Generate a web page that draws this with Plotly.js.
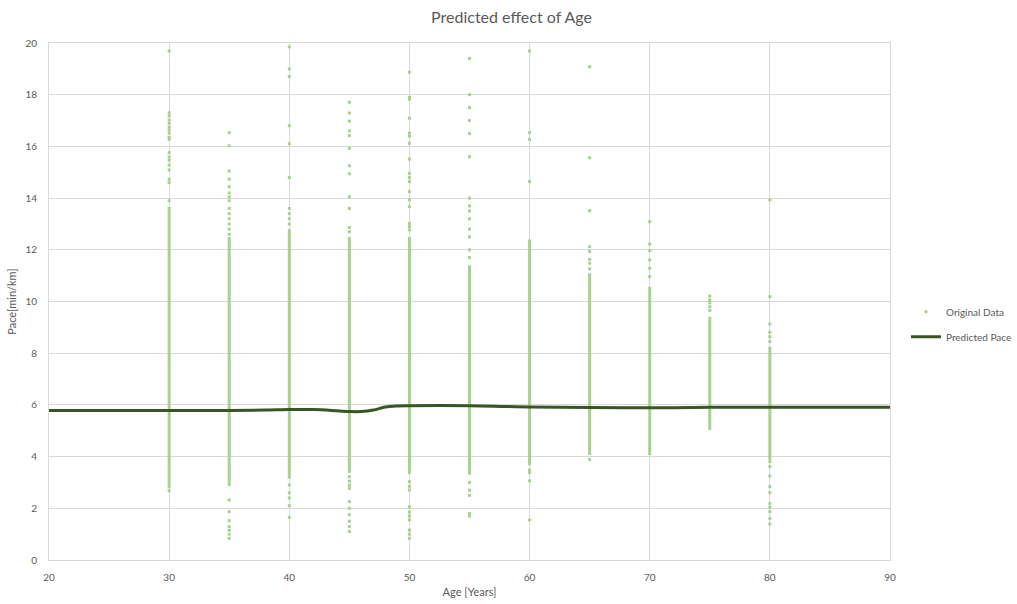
<!DOCTYPE html>
<html>
<head>
<meta charset="utf-8">
<script src="https://cdn.plot.ly/plotly-3.0.1.min.js"></script>
<style>html,body{margin:0;padding:0;background:#fff;}#chart{width:1017px;height:604px;}</style>
</head>
<body>
<div id="chart"></div>
<script>
// Age groups with a dense band of observations (low..high) in min/km
const denseAges = [30, 35, 40, 45, 50, 55, 60, 65, 70, 75, 80];
const denseLow  = [2.78, 2.86, 3.15, 3.37, 3.33, 3.30, 3.67, 4.06, 4.06, 5.03, 3.75];
const denseHigh = [13.67, 12.50, 12.80, 12.50, 12.50, 11.40, 12.40, 11.09, 10.57, 9.41, 8.25];

// Sparse outlying observations per age group
const out30 = [19.69, 17.30, 17.18, 17.02, 16.89, 16.74, 16.63, 16.51, 16.35, 16.27, 15.76, 15.59, 15.47, 15.28, 15.09, 14.73, 14.60, 13.9, 2.68];
const out35 = [16.53, 16.02, 15.05, 14.73, 14.44, 14.2, 14.05, 13.9, 13.6, 13.4, 13.2, 13.0, 12.8, 12.6, 2.32, 1.87, 1.52, 1.29, 1.15, 1.0, 0.84];
const out40 = [19.85, 19.0, 18.7, 16.8, 16.1, 14.8, 13.6, 13.4, 13.2, 13.0, 2.9, 2.6, 2.4, 2.1, 1.65];
const out45 = [17.71, 17.29, 16.98, 16.60, 16.42, 15.93, 15.25, 14.94, 14.05, 13.60, 12.86, 12.70, 3.22, 3.05, 2.90, 2.77, 2.26, 2.0, 1.75, 1.5, 1.3, 1.10];
const out50 = [18.87, 17.90, 17.83, 17.09, 16.51, 16.40, 16.12, 15.51, 14.96, 14.80, 14.64, 14.25, 13.93, 13.67, 13.02, 12.9, 12.77, 3.03, 2.85, 2.71, 2.06, 1.85, 1.70, 1.55, 1.16, 1.0, 0.84];
const out55 = [19.4, 18.0, 17.5, 17.0, 16.5, 15.6, 14.0, 13.7, 13.5, 13.2, 12.8, 12.5, 12.0, 11.7, 3.0, 2.7, 2.5, 1.8, 1.7];
const out60 = [19.69, 16.53, 16.27, 14.64, 3.48, 3.38, 3.06, 1.55];
const out65 = [19.08, 15.56, 13.51, 12.12, 11.93, 11.63, 11.48, 11.26, 3.89];
const out70 = [13.09, 12.22, 11.97, 11.61, 11.28, 10.96];
const out75 = [10.21, 10.06, 9.95, 9.80, 9.65];
const out80 = [13.93, 10.19, 9.13, 8.81, 8.64, 8.45, 3.61, 3.25, 2.84, 2.60, 2.19, 2.04, 1.87, 1.61, 1.39];
const outAges = [30, 35, 40, 45, 50, 55, 60, 65, 70, 75, 80];
const outLists = [out30, out35, out40, out45, out50, out55, out60, out65, out70, out75, out80];

// Predicted pace curve
const predAges = [20, 25, 30, 35, 38, 40, 42, 44, 45, 46, 47, 48, 49, 50, 55, 58, 60, 65, 68, 70, 72, 75, 80, 85, 90];
const predPace = [5.78, 5.78, 5.78, 5.78, 5.80, 5.82, 5.82, 5.77, 5.74, 5.74, 5.80, 5.92, 5.96, 5.97, 5.97, 5.94, 5.92, 5.90, 5.89, 5.89, 5.89, 5.91, 5.91, 5.91, 5.91];

const green = '#a9d18e';
const dark = '#375623';
const grey = '#595959';

// Build dense-band line segments
const bandX = [], bandY = [];
denseAges.forEach((a, i) => { bandX.push(a, a, null); bandY.push(denseLow[i], denseHigh[i], null); });
// Build sparse points
const ptX = [], ptY = [];
outAges.forEach((a, i) => { outLists[i].forEach(v => { ptX.push(a); ptY.push(v); }); });

const traces = [
  {x: bandX, y: bandY, mode: 'lines', line: {color: green, width: 3}, showlegend: false, legendgroup: 'orig', hoverinfo: 'skip', connectgaps: false},
  {x: ptX, y: ptY, mode: 'markers', name: 'Original Data', legendgroup: 'orig', marker: {color: green, size: 3, symbol: 'square'}},
  {x: predAges, y: predPace, mode: 'lines', name: 'Predicted Pace', line: {color: dark, width: 3, shape: 'spline', smoothing: 1}}
];

const fontFam = 'Lato, "Open Sans", sans-serif';
const layout = {
  width: 1017, height: 604,
  margin: {l: 49, r: 127, t: 43, b: 44, autoexpand: false},
  paper_bgcolor: '#ffffff', plot_bgcolor: '#ffffff',
  font: {family: fontFam, color: grey, size: 10},
  title: {text: 'Predicted effect of Age', font: {size: 16, color: grey, family: fontFam}, x: 0.503, xref: 'container', y: 0.972, yref: 'container', yanchor: 'middle'},
  xaxis: {range: [20, 90], dtick: 10, tick0: 20, showgrid: true, gridcolor: '#d9d9d9', gridwidth: 1, zeroline: false,
          showline: true, linecolor: '#d9d9d9', linewidth: 1, mirror: true, ticks: 'outside', ticklen: 8, tickcolor: 'rgba(0,0,0,0)',
          tickfont: {size: 10, color: grey}, title: {text: 'Age [Years]', font: {size: 11, color: grey}, standoff: 6}},
  yaxis: {range: [0, 20], dtick: 2, tick0: 0, showgrid: true, gridcolor: '#d9d9d9', gridwidth: 1, zeroline: false,
          showline: true, linecolor: '#d9d9d9', linewidth: 1, mirror: true, ticks: 'outside', ticklen: 9, tickcolor: 'rgba(0,0,0,0)',
          tickfont: {size: 10, color: grey}, title: {text: 'Pace[min/km]', font: {size: 11, color: grey}, standoff: 6}},
  legend: {x: 1.019, xanchor: 'left', xref: 'paper', y: 0.456, yanchor: 'middle', font: {size: 10, color: grey}, bgcolor: 'rgba(0,0,0,0)', itemwidth: 30, tracegroupgap: 6},
  showlegend: true
};

Plotly.newPlot('chart', traces, layout, {displayModeBar: false, staticPlot: true});
</script>
</body>
</html>
